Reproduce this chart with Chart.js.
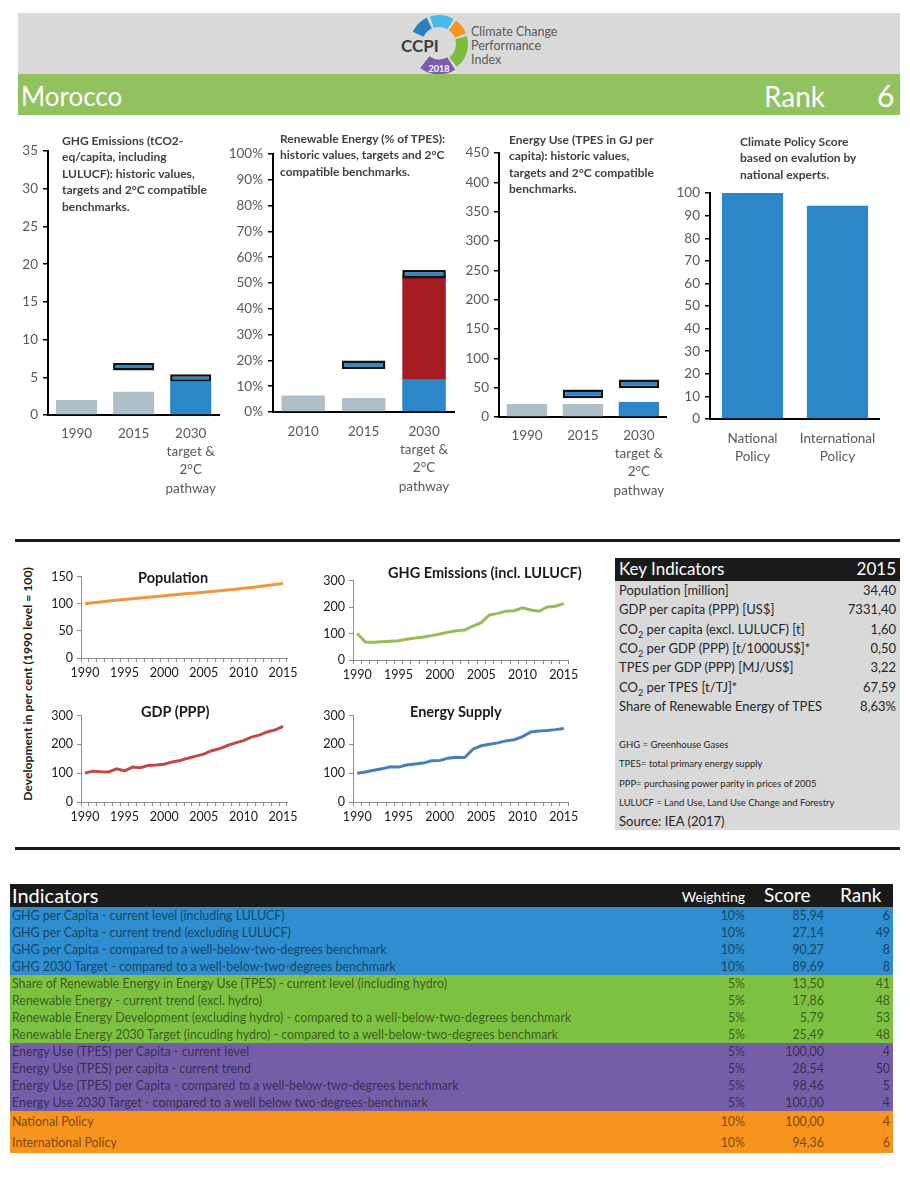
<!DOCTYPE html>
<html>
<head>
<meta charset="utf-8">
<title>CCPI 2018 - Morocco</title>
<script src="https://cdn.jsdelivr.net/npm/chart.js@4.4.1/dist/chart.umd.min.js"></script>
<style>
  html, body { margin: 0; padding: 0; background: #fff; }
  body { width: 910px; height: 1186px; position: relative; overflow: hidden; font-family: Lato, "Open Sans", sans-serif; color: #262626; }
  .abs { position: absolute; }
  .ctitle { position: absolute; font-weight: bold; font-size: 12px; line-height: 16.4px; color: #404040; white-space: nowrap; }
  .ltitle { position: absolute; font-weight: bold; font-size: 14.5px; line-height: 18px; color: #1a1a1a; white-space: nowrap; }
  .rule { position: absolute; left: 15px; width: 885px; height: 3px; background: #1a1a1a; }
  .cell { position: absolute; white-space: nowrap; }
  sub { font-size: 0.7em; line-height: 0; }
</style>
</head>
<body>

<!-- header -->
<div class="abs" style="left:18px;top:13px;width:882px;height:61px;background:#d9d9d9"></div>
<svg id="logo" class="abs" style="left:380px;top:10px" width="200" height="68"></svg>
<div class="abs" style="left:18px;top:74px;width:882px;height:41px;background:#92c15f"></div>
<div class="abs" style="left:21px;top:81px;font-size:26px;line-height:30px;color:#fff">Morocco</div>
<div class="abs" style="left:764px;top:79px;font-size:28px;line-height:34px;color:#fff">Rank</div>
<div class="abs" style="left:877px;top:78px;font-size:30px;line-height:34px;color:#fff">6</div>

<!-- top bar charts -->
<div id="b1" class="abs"><canvas id="c1"></canvas></div>
<div id="b2" class="abs"><canvas id="c2"></canvas></div>
<div id="b3" class="abs"><canvas id="c3"></canvas></div>
<div id="b4" class="abs"><canvas id="c4"></canvas></div>

<div class="ctitle" style="left:62px;top:133px">GHG Emissions (tCO2-<br>eq/capita, including<br>LULUCF): historic values,<br>targets and 2°C compatible<br>benchmarks.</div>
<div class="ctitle" style="left:280px;top:131px">Renewable Energy (% of TPES):<br>historic values, targets and 2°C<br>compatible benchmarks.</div>
<div class="ctitle" style="left:509px;top:132px">Energy Use (TPES in GJ per<br>capita): historic values,<br>targets and 2°C compatible<br>benchmarks.</div>
<div class="ctitle" style="left:740px;top:134px">Climate Policy Score<br>based on evalution by<br>national experts.</div>

<div class="rule" style="top:539px"></div>

<!-- development line charts -->
<div class="abs" style="left:-102px;top:676px;width:260px;text-align:center;transform:rotate(-90deg);font-weight:bold;font-size:12.2px;line-height:16px;color:#1a1a1a;white-space:nowrap">Development in per cent (1990 level = 100)</div>
<div id="b5" class="abs"><canvas id="c5"></canvas></div>
<div id="b6" class="abs"><canvas id="c6"></canvas></div>
<div id="b7" class="abs"><canvas id="c7"></canvas></div>
<div id="b8" class="abs"><canvas id="c8"></canvas></div>
<div class="ltitle" style="left:138px;top:569px">Population</div>
<div class="ltitle" style="left:388px;top:564px">GHG Emissions (incl. LULUCF)</div>
<div class="ltitle" style="left:141px;top:703px">GDP (PPP)</div>
<div class="ltitle" style="left:410px;top:703px">Energy Supply</div>

<!-- key indicators -->
<div id="keyTable"></div>

<div class="rule" style="top:847px"></div>

<!-- indicators table -->
<div id="indTable"></div>

<script>
// ---- top charts ----
const ghgCats = ["1990", "2015", ["2030", "target &", "2°C", "pathway"]];
const ghgHist = [2.0, 3.1, 4.4];
const ghgBench = [null, [5.9, 6.9], [4.4, 5.4]];

const reCats = ["2010", "2015", ["2030", "target &", "2°C", "pathway"]];
const reHist = [6.4, 5.4, 12.5];
const reTarget = [null, null, [12.5, 53.2]];
const reBench = [null, [16.7, 20.0], [51.7, 55.0]];

const euCats = ["1990", "2015", ["2030", "target &", "2°C", "pathway"]];
const euHist = [22, 22, 25.5];
const euBench = [null, [32, 47], [49, 64]];

const policyCats = [["National", "Policy"], ["International", "Policy"]];
const policyScores = [100, 94.36];

// ---- development since 1990 (1990 = 100) ----
const years = [1990, 1991, 1992, 1993, 1994, 1995, 1996, 1997, 1998, 1999, 2000, 2001, 2002,
               2003, 2004, 2005, 2006, 2007, 2008, 2009, 2010, 2011, 2012, 2013, 2014, 2015];
const population = [100, 101.6, 103.2, 104.8, 106.3, 107.8, 109.2, 110.6, 112.0, 113.3, 114.6, 115.9, 117.2,
                    118.5, 119.8, 121.1, 122.4, 123.8, 125.2, 126.7, 128.3, 129.9, 131.6, 133.4, 135.2, 137.0];
const ghgIndex = [100, 68, 67, 69, 71, 73, 78, 83, 87, 92, 98, 105, 110,
                  113, 128, 141, 170, 176, 184, 186, 197, 189, 184, 200, 203, 213];
const gdpIndex = [100, 107, 105, 104, 115, 108, 121, 119, 127, 128, 131, 139, 144,
                  152, 159, 166, 178, 185, 196, 205, 213, 225, 232, 243, 250, 262];
const energyIndex = [100, 104, 110, 115, 122, 121, 128, 132, 135, 143, 144, 152, 155,
                     154, 183, 195, 200, 205, 212, 216, 227, 243, 246, 248, 251, 255];

// ---- key indicators ----
const keyLabels = ["Population [million]", "GDP per capita (PPP) [US$]", "CO<sub>2</sub> per capita (excl. LULUCF) [t]",
                   "CO<sub>2</sub> per GDP (PPP) [t/1000US$]*", "TPES per GDP (PPP) [MJ/US$]", "CO<sub>2</sub> per TPES [t/TJ]*",
                   "Share of Renewable Energy of TPES"];
const keyValues = ["34,40", "7331,40", "1,60", "0,50", "3,22", "67,59", "8,63%"];
const keyNotes = ["GHG = Greenhouse Gases", "TPES= total primary energy supply",
                  "PPP= purchasing power parity in prices of 2005", "LULUCF = Land Use, Land Use Change and Forestry"];

// ---- indicators ----
const indicatorNames = [
  "GHG per Capita - current level (including LULUCF)",
  "GHG per Capita - current trend (excluding LULUCF)",
  "GHG per Capita - compared to a well-below-two-degrees benchmark",
  "GHG 2030 Target - compared to a well-below-two-degrees benchmark",
  "Share of Renewable Energy in Energy Use (TPES) - current level (including hydro)",
  "Renewable Energy - current trend (excl. hydro)",
  "Renewable Energy Development (excluding hydro) - compared to a well-below-two-degrees benchmark",
  "Renewable Energy 2030 Target (incuding hydro) - compared to  a well-below-two-degrees benchmark",
  "Energy Use (TPES) per Capita - current level",
  "Energy Use (TPES) per capita - current trend",
  "Energy Use (TPES) per Capita - compared to a well-below-two-degrees benchmark",
  "Energy Use 2030 Target - compared to  a well below two-degrees-benchmark",
  "National Policy",
  "International Policy"
];
const indicatorWeights = ["10%", "10%", "10%", "10%", "5%", "5%", "5%", "5%", "5%", "5%", "5%", "5%", "10%", "10%"];
const indicatorScores = ["85,94", "27,14", "90,27", "89,69", "13,50", "17,86", "5,79", "25,49",
                         "100,00", "28,54", "98,46", "100,00", "100,00", "94,36"];
const indicatorRanks = [6, 49, 8, 8, 41, 48, 53, 48, 4, 50, 5, 4, 4, 6];
const indicatorGroups = ["ghg", "ghg", "ghg", "ghg", "re", "re", "re", "re", "eu", "eu", "eu", "eu", "pol", "pol"];

const groupColor = { ghg: "#2e8ecf", re: "#7dc142", eu: "#755ea8", pol: "#f7941d" };
const GREY = "#adc0ca", BLUE = "#2b87c8", RED = "#a51d22";

Chart.defaults.font.family = "Lato, 'Open Sans', sans-serif";
Chart.defaults.animation = false;

function sizeBox(id, box) {
  const d = document.getElementById(id);
  d.style.left = box.l + "px"; d.style.top = box.t + "px";
  d.style.width = box.w + "px"; d.style.height = box.h + "px";
}

function barChart(n, box, area, labels, datasets, yMax, yStep, fmt, xPad) {
  sizeBox("b" + n, box);
  return new Chart(document.getElementById("c" + n), {
    type: "bar",
    data: { labels: labels, datasets: datasets },
    options: {
      responsive: true,
      maintainAspectRatio: false,
      layout: { padding: { top: area.t - box.t, right: box.l + box.w - area.r, left: 0, bottom: 0 } },
      plugins: { legend: { display: false }, tooltip: { enabled: false } },
      datasets: { bar: { grouped: false, categoryPercentage: 1, barPercentage: 0.72 } },
      scales: {
        x: {
          grid: { display: true, drawOnChartArea: false, drawTicks: false },
          border: { color: "#000", width: 2 },
          ticks: { color: "#595959", font: { size: 13.5, lineHeight: 1.36 }, padding: xPad, maxRotation: 0, autoSkip: false },
          afterFit: s => { s.height = box.t + box.h - area.b; }
        },
        y: {
          min: 0, max: yMax,
          grid: { drawOnChartArea: false, tickLength: 5, color: "#000", lineWidth: 1.5 },
          border: { color: "#000", width: 2 },
          ticks: { stepSize: yStep, color: "#595959", font: { size: 13.5 }, padding: 5, callback: fmt },
          afterFit: s => { s.width = area.l - box.l; }
        }
      }
    }
  });
}

const benchStyle = { backgroundColor: BLUE, borderColor: "#111", borderWidth: 2.5, borderSkipped: false };

barChart(1, { l: 0, t: 138, w: 226, h: 366 }, { l: 48, t: 149, r: 220, b: 415 }, ghgCats, [
  Object.assign({ data: ghgBench }, benchStyle),
  { data: ghgHist, backgroundColor: [GREY, GREY, BLUE] }
], 35, 5, v => v, 9);

barChart(2, { l: 228, t: 140, w: 232, h: 364 }, { l: 273, t: 154, r: 456, b: 412 }, reCats, [
  Object.assign({ data: reBench }, benchStyle),
  { data: reTarget, backgroundColor: RED, borderSkipped: false },
  { data: reHist, backgroundColor: [GREY, GREY, BLUE] }
], 100, 10, v => v + "%", 10);

barChart(3, { l: 462, t: 140, w: 212, h: 366 }, { l: 499, t: 152, r: 669, b: 417 }, euCats, [
  Object.assign({ data: euBench }, benchStyle),
  { data: euHist, backgroundColor: [GREY, GREY, BLUE] }
], 450, 50, v => v, 9);

barChart(4, { l: 675, t: 180, w: 212, h: 290 }, { l: 710, t: 192, r: 880, b: 419 }, policyCats, [
  { data: policyScores, backgroundColor: BLUE }
], 100, 10, v => v, 10);

function lineChart(n, box, area, values, color, yMax, yStep) {
  sizeBox("b" + n, box);
  return new Chart(document.getElementById("c" + n), {
    type: "line",
    data: { labels: years, datasets: [{ data: values, borderColor: color, borderWidth: 3, pointRadius: 0, tension: 0 }] },
    options: {
      responsive: true,
      maintainAspectRatio: false,
      layout: { padding: { top: area.t - box.t, right: box.l + box.w - area.r, left: 0, bottom: 0 } },
      plugins: { legend: { display: false }, tooltip: { enabled: false } },
      scales: {
        x: {
          offset: true,
          grid: { display: true, drawOnChartArea: false, offset: true, tickLength: 4, color: "#8c8c8c" },
          border: { color: "#8c8c8c", width: 1 },
          ticks: {
            color: "#1a1a1a", font: { size: 12.5 }, padding: 3, maxRotation: 0, autoSkip: false,
            callback: (v, i) => (years[i] % 5 === 0 ? String(years[i]) : "")
          },
          afterFit: s => { s.height = box.t + box.h - area.b; }
        },
        y: {
          min: 0, max: yMax,
          grid: { drawOnChartArea: false, tickLength: 4, color: "#8c8c8c" },
          border: { color: "#8c8c8c", width: 1 },
          ticks: { stepSize: yStep, color: "#1a1a1a", font: { size: 12.5 }, padding: 4 },
          afterFit: s => { s.width = area.l - box.l; }
        }
      }
    }
  });
}

lineChart(5, { l: 40, t: 565, w: 262, h: 125 }, { l: 81, t: 574, r: 287, b: 658 }, population, "#f0963c", 150, 50);
lineChart(6, { l: 312, t: 569, w: 272, h: 125 }, { l: 353, t: 578, r: 568, b: 660 }, ghgIndex, "#9bbb59", 300, 100);
lineChart(7, { l: 40, t: 704, w: 262, h: 128 }, { l: 81, t: 713, r: 287, b: 802 }, gdpIndex, "#be4b48", 300, 100);
lineChart(8, { l: 312, t: 704, w: 272, h: 128 }, { l: 353, t: 713, r: 568, b: 802 }, energyIndex, "#4a7ebb", 300, 100);

// ---- logo ----
(function () {
  const svg = document.getElementById("logo");
  const cx = 59, cy = 34;
  function arc(r, a0, a1) {
    const rad = a => a * Math.PI / 180;
    const x0 = cx + r * Math.cos(rad(a0)), y0 = cy + r * Math.sin(rad(a0));
    const x1 = cx + r * Math.cos(rad(a1)), y1 = cy + r * Math.sin(rad(a1));
    const large = ((a1 - a0 + 360) % 360) > 180 ? 1 : 0;
    return "M" + x0 + " " + y0 + " A" + r + " " + r + " 0 " + large + " 1 " + x1 + " " + y1;
  }
  const segs = [
    [23, 205, 245, "#2d7fc1", 12],
    [23, 252, 300, "#45b8ea", 12],
    [23, 306, 338, "#f7941d", 12],
    [23, 344, 52, "#7cbd3f", 12],
    [23, 58, 128, "#7a5ca8", 15]
  ];
  let html = "";
  segs.forEach(s => { html += '<path d="' + arc(s[0], s[1], s[2]) + '" fill="none" stroke="' + s[3] + '" stroke-width="' + s[4] + '"/>'; });
  html += '<text x="21" y="42" font-family="Lato, sans-serif" font-weight="bold" font-size="17" fill="#3d3d3d">CCPI</text>';
  html += '<text x="59" y="62" text-anchor="middle" font-family="Lato, sans-serif" font-weight="bold" font-size="9" fill="#fff">2018</text>';
  html += '<text font-family="Lato, sans-serif" font-size="12.5" fill="#595959">' +
          '<tspan x="91" y="26">Climate Change</tspan><tspan x="91" y="40">Performance</tspan><tspan x="91" y="54">Index</tspan></text>';
  svg.innerHTML = html;
})();

// ---- key indicators table ----
(function () {
  let h = '<div class="abs" style="left:615px;top:558px;width:285px;height:272px;background:#d9d9d9"></div>';
  h += '<div class="abs" style="left:615px;top:558px;width:285px;height:23px;background:#1a1a1a"></div>';
  h += '<div class="cell" style="left:619px;top:557px;font-size:17px;line-height:24px;color:#fff">Key Indicators</div>';
  h += '<div class="cell" style="left:796px;top:557px;width:100px;text-align:right;font-size:17px;line-height:24px;color:#fff">2015</div>';
  keyLabels.forEach((lab, i) => {
    const top = 581 + i * 19.3;
    h += '<div class="cell" style="left:619px;top:' + top + 'px;font-size:13px;line-height:19px;color:#262626">' + lab + '</div>';
    h += '<div class="cell" style="left:796px;top:' + top + 'px;width:100px;text-align:right;font-size:13px;line-height:19px;color:#262626">' + keyValues[i] + '</div>';
  });
  keyNotes.forEach((t, i) => {
    h += '<div class="cell" style="left:619px;top:' + (737 + i * 19.4) + 'px;font-size:9.5px;line-height:16px;color:#262626">' + t + '</div>';
  });
  h += '<div class="cell" style="left:619px;top:812px;font-size:13px;line-height:18px;color:#262626">Source: IEA (2017)</div>';
  document.getElementById("keyTable").innerHTML = h;
})();

// ---- indicators table ----
(function () {
  let h = '<div class="abs" style="left:10px;top:884px;width:883px;height:23px;background:#1a1a1a"></div>';
  h += '<div class="cell" style="left:12px;top:882px;font-size:20px;line-height:26px;color:#fff">Indicators</div>';
  h += '<div class="cell" style="left:645px;top:885px;width:100px;text-align:right;font-size:14px;line-height:24px;color:#fff">Weighting</div>';
  h += '<div class="cell" style="left:764px;top:882px;font-size:19px;line-height:26px;color:#fff">Score</div>';
  h += '<div class="cell" style="left:840px;top:882px;font-size:19px;line-height:26px;color:#fff">Rank</div>';
  indicatorNames.forEach((name, i) => {
    const top = i < 12 ? 907 + i * 17 : 1111 + (i - 12) * 21;
    const ht = i < 12 ? 17 : 21;
    const txt = "color:rgba(0,0,0,0.55);font-size:12.4px;line-height:" + ht + "px;";
    h += '<div class="abs" style="left:10px;top:' + top + 'px;width:883px;height:' + ht + 'px;background:' + groupColor[indicatorGroups[i]] + '"></div>';
    h += '<div class="cell" style="left:12px;top:' + top + 'px;' + txt + '">' + name + '</div>';
    h += '<div class="cell" style="left:645px;top:' + top + 'px;width:100px;text-align:right;' + txt + '">' + indicatorWeights[i] + '</div>';
    h += '<div class="cell" style="left:724px;top:' + top + 'px;width:100px;text-align:right;' + txt + '">' + indicatorScores[i] + '</div>';
    h += '<div class="cell" style="left:790px;top:' + top + 'px;width:100px;text-align:right;' + txt + '">' + indicatorRanks[i] + '</div>';
  });
  document.getElementById("indTable").innerHTML = h;
})();
</script>
</body>
</html>
